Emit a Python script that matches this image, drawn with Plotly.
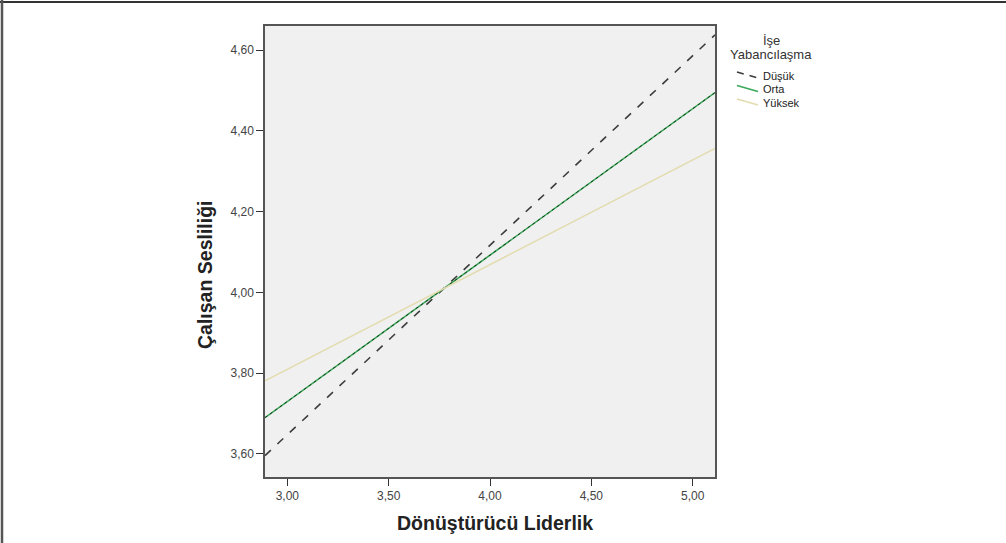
import plotly.graph_objects as go

# Data
x_vals = [2.89, 5.11]
dusuk = [3.596, 4.638]
orta = [3.690, 4.495]
yuksek = [3.781, 4.357]
series_names = ["Düşük", "Orta", "Yüksek"]
x_ticks = [3.0, 3.5, 4.0, 4.5, 5.0]
x_ticklabels = ["3,00", "3,50", "4,00", "4,50", "5,00"]
y_ticks = [3.6, 3.8, 4.0, 4.2, 4.4, 4.6]
y_ticklabels = ["3,60", "3,80", "4,00", "4,20", "4,40", "4,60"]

styles = [
    dict(color="#3c3c3c", width=1.6, dash="8px,9px"),
    dict(color="#3aa858", width=1.6),
    dict(color="#e3dcb0", width=1.5),
]

fig = go.Figure()
for name, vals, st in zip(series_names, [dusuk, orta, yuksek], styles):
    fig.add_trace(go.Scatter(x=x_vals, y=vals, mode="lines", name=name, line=st,
                             showlegend=False))
    if name == "Orta":
        fig.add_trace(go.Scatter(x=x_vals, y=vals, mode="lines", showlegend=False,
                                 hoverinfo="skip",
                                 line=dict(color="#1a3a22", width=1, dash="3px,3px")))

L, R, T, B = 265, 291, 26, 66
W, H = 1006, 543
pw, ph = W - L - R, H - T - B

def px(x):
    return (x - L) / pw

def py(y):
    return (H - B - y) / ph

annotations = [
    dict(text="İşe", x=px(771), y=py(41)),
    dict(text="Yabancılaşma", x=px(771), y=py(54)),
]
for a in annotations:
    a.update(xref="paper", yref="paper", showarrow=False, xanchor="center", yanchor="middle",
             font=dict(size=13, color="#333"))

shapes = [
    dict(type="line", xref="paper", yref="paper", x0=px(0), x1=px(1006), y0=py(2), y1=py(2),
         line=dict(color="#333", width=2)),
    dict(type="line", xref="paper", yref="paper", x0=px(2), x1=px(2), y0=py(0), y1=py(543),
         line=dict(color="#555", width=2.5)),
]

# manual legend (compact, as in the original)
for i, (name, st) in enumerate(zip(series_names, styles)):
    ly = 72 + 13.5 * i
    leg_line = dict(st)
    if "dash" in leg_line:
        leg_line["dash"] = "7px,6px"
    shapes.append(dict(type="line", xref="paper", yref="paper",
                       x0=px(737), x1=px(758), y0=py(ly), y1=py(ly + 6), line=leg_line))
    annotations.append(dict(text=name, x=px(761), y=py(ly + 4), xref="paper", yref="paper",
                            showarrow=False, xanchor="left", yanchor="middle",
                            font=dict(size=11, color="#222")))

annotations += [
    dict(text="<b>Dönüştürücü Liderlik</b>", x=px(495), y=py(523), xref="paper", yref="paper",
         showarrow=False, font=dict(size=19.5, color="#222"), xanchor="center", yanchor="middle"),
    dict(text="<b>Çalışan Sesliliği</b>", x=px(205), y=py(275), xref="paper", yref="paper",
         showarrow=False, font=dict(size=19.5, color="#222"), textangle=-90,
         xanchor="center", yanchor="middle"),
]

fig.update_layout(
    width=W, height=H,
    margin=dict(l=L, r=R, t=T, b=B, autoexpand=False),
    paper_bgcolor="white",
    plot_bgcolor="#f0f0f0",
    font=dict(family="Liberation Sans, Arial, sans-serif", color="#222"),
    xaxis=dict(range=[2.89, 5.11], tickvals=x_ticks, ticktext=x_ticklabels,
               showgrid=False, zeroline=False, showline=True, linecolor="#555", linewidth=1.5,
               mirror=True, ticks="outside", ticklen=7, tickcolor="#333", tickwidth=1.2,
               tickfont=dict(size=12, color="#444")),
    yaxis=dict(range=[3.543, 4.66], tickvals=y_ticks, ticktext=y_ticklabels,
               showgrid=False, zeroline=False, showline=True, linecolor="#555", linewidth=1.5,
               mirror=True, ticks="outside", ticklen=7, tickcolor="#333", tickwidth=1.2,
               tickfont=dict(size=12, color="#444")),
    showlegend=False,
    annotations=annotations,
    shapes=shapes,
)

fig.write_html("out.html", config={"displayModeBar": False},
               post_script="document.body.style.margin='0';document.body.style.overflow='hidden';")
